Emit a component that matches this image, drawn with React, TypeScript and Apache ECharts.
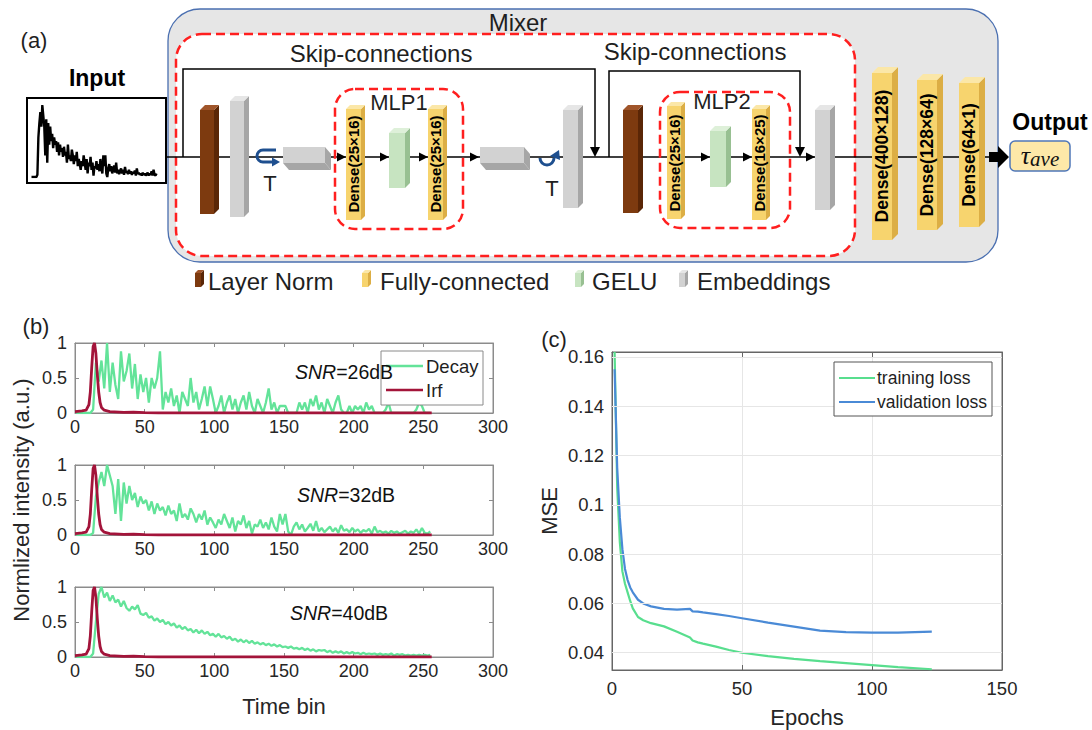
import React, { useEffect, useRef } from "react";
import * as echarts from "echarts";

const FONT = "'Liberation Sans', Arial, Helvetica, sans-serif";
const TXT = "#1f1f1f";

// ---------------- data ----------------
// decay histograms, sampled every other time bin (bins 1, 3, 5, ..., 255)
const BIN_START = 1;
const BIN_STEP = 2;
const decay26 = [
  0, 0, 0, 0, 0, 0, 0.05, 0.72, 0.45, 0.75, 0.35, 1.0, 0.3, 0.72, 0.4, 0.2, 0.88, 0.45, 0.6, 0.85,
  0.35, 0.7, 0.2, 0.55, 0.3, 0.5, 0.15, 0.5, 0.35, 0.5, 0.88, 0.05, 0.3, 0.15, 0.35, 0.1, 0.25, 0, 0.3, 0.2,
  0.1, 0.5, 0.15, 0.3, 0.05, 0.2, 0.38, 0.1, 0.38, 0.2, 0, 0.1, 0.25, 0, 0.15, 0.25, 0.05, 0.2, 0, 0.15,
  0.25, 0.05, 0.3, 0.1, 0, 0.2, 0.1, 0, 0.15, 0.35, 0.05, 0.15, 0, 0.1, 0.1, 0.1, 0, 0, 0, 0,
  0.15, 0.05, 0.15, 0, 0.2, 0.1, 0.25, 0.05, 0.15, 0, 0.2, 0.1, 0, 0.15, 0.25, 0.05, 0, 0, 0.1, 0,
  0.1, 0.05, 0.1, 0, 0.15, 0.05, 0.1, 0, 0, 0, 0, 0.05, 0.15, 0, 0, 0, 0, 0, 0, 0,
  0, 0, 0.05, 0.15, 0.1, 0, 0, 0,
];
const decay32 = [
  0, 0, 0, 0, 0, 0, 0.03, 0.55, 0.75, 0.9, 0.7, 1.0, 0.85, 0.7, 0.3, 0.8, 0.2, 0.75, 0.45, 0.7,
  0.5, 0.6, 0.4, 0.55, 0.45, 0.5, 0.35, 0.48, 0.3, 0.45, 0.35, 0.4, 0.28, 0.42, 0.3, 0.35, 0.2, 0.45, 0.25, 0.3,
  0.22, 0.38, 0.3, 0.18, 0.3, 0.22, 0.35, 0.15, 0.25, 0.18, 0.1, 0.22, 0.15, 0.3, 0.2, 0.1, 0.25, 0.05, 0.2, 0.15,
  0.28, 0.1, 0.2, 0.02, 0.15, 0.12, 0.22, 0.1, 0.18, 0.08, 0.25, 0.12, 0.05, 0.3, 0.15, 0.3, 0.05, 0, 0.12, 0.18,
  0.08, 0.15, 0.05, 0.1, 0.16, 0.06, 0.2, 0.05, 0.1, 0.04, 0.08, 0.12, 0.05, 0.1, 0.03, 0.14, 0.06, 0.08, 0.04, 0.1,
  0.05, 0.08, 0.03, 0.07, 0.05, 0.09, 0.02, 0.12, 0.04, 0.06, 0.03, 0.05, 0.02, 0.06, 0.03, 0.05, 0.02, 0.04, 0.06, 0.02,
  0.05, 0.03, 0.08, 0.02, 0.1, 0.03, 0.02, 0.05,
];
const decay40 = [
  0, 0, 0, 0, 0, 0, 0.05, 0.5, 0.9, 1.0, 0.85, 0.92, 0.8, 0.88, 0.78, 0.82, 0.72, 0.8, 0.7, 0.66,
  0.72, 0.68, 0.74, 0.62, 0.6, 0.63, 0.56, 0.58, 0.52, 0.55, 0.5, 0.53, 0.47, 0.5, 0.45, 0.48, 0.42, 0.45, 0.4, 0.43,
  0.38, 0.4, 0.35, 0.39, 0.34, 0.38, 0.33, 0.36, 0.31, 0.33, 0.29, 0.33, 0.28, 0.3, 0.26, 0.29, 0.24, 0.26, 0.22, 0.25,
  0.21, 0.24, 0.2, 0.23, 0.19, 0.21, 0.18, 0.2, 0.17, 0.19, 0.16, 0.18, 0.15, 0.17, 0.14, 0.15, 0.13, 0.15, 0.12, 0.13,
  0.11, 0.13, 0.1, 0.12, 0.09, 0.11, 0.08, 0.1, 0.09, 0.1, 0.07, 0.09, 0.06, 0.08, 0.06, 0.08, 0.05, 0.07, 0.05, 0.07,
  0.05, 0.06, 0.04, 0.06, 0.04, 0.05, 0.04, 0.05, 0.03, 0.05, 0.03, 0.04, 0.03, 0.05, 0.02, 0.04, 0.03, 0.04, 0.02, 0.03,
  0.02, 0.03, 0.02, 0.03, 0.02, 0.03, 0.02, 0.03,
];
const irfBins = [0, 5, 8, 10, 11, 12, 13, 14, 15, 16, 17, 18, 19, 21, 25, 35, 42, 50, 60, 256];
const irfValues = [0.02, 0.03, 0.04, 0.12, 0.3, 0.65, 0.95, 1.0, 0.85, 0.55, 0.3, 0.15, 0.08, 0.04, 0.02, 0.01, 0.012, 0.005, 0, 0];
const snrLabels = ["26dB", "32dB", "40dB"];

const epochs = [1, 2, 3, 4, 5, 6, 7, 8, 10, 12, 15, 20, 25, 30, 31, 33, 35, 40, 45, 50, 60, 70, 80, 90, 100, 110, 123];
const trainingLoss = [0.162, 0.107, 0.085, 0.073, 0.068, 0.0645, 0.061, 0.058, 0.0545, 0.0532, 0.052, 0.0507, 0.0485, 0.0462, 0.045, 0.0442, 0.0437, 0.0425, 0.0411, 0.04, 0.0386, 0.0375, 0.0366, 0.0358, 0.035, 0.0342, 0.0333];
const validationLoss = [0.155, 0.115, 0.095, 0.082, 0.074, 0.0695, 0.0665, 0.0645, 0.0615, 0.06, 0.0588, 0.0578, 0.0575, 0.0578, 0.0568, 0.0567, 0.0564, 0.0557, 0.0549, 0.054, 0.0522, 0.0506, 0.049, 0.0484, 0.0482, 0.0482, 0.0486];
const mseTicks = [0.04, 0.06, 0.08, 0.1, 0.12, 0.14, 0.16];

const legendB = ["Decay", "Irf"];
const legendC = ["training loss", "validation loss"];
const blockLegend = ["Layer Norm", "Fully-connected", "GELU", "Embeddings"];
const mlp1Dense = ["Dense(25×16)", "Dense(25×16)"];
const mlp2Dense = ["Dense(25×16)", "Dense(16×25)"];
const headDense = ["Dense(400×128)", "Dense(128×64)", "Dense(64×1)"];

// ---------------- colours ----------------
const GREEN = "#63e399";
const RED = "#a3143a";
const TRAIN = "#58de8e";
const VALID = "#4a8ad6";
const BROWN = { front: "#7d3a0f", top: "#a0552a", side: "#5a2606" };
const GRAY = { front: "#d2d2d2", top: "#e6e6e6", side: "#a6a6a6" };
const YELLOW = { front: "#f7d46e", top: "#fbe7a8", side: "#dcae45" };
const GELUC = { front: "#c7e4c1", top: "#def0d9", side: "#98c092" };

const toPairs = (vals: number[]) => vals.map((v, i) => [BIN_START + BIN_STEP * i, v]);

// ---------------- graphic helpers ----------------
const poly = (pts: number[][], fill: string, z = 5) => ({ type: "polygon", silent: true, z, shape: { points: pts }, style: { fill } });
function box3d(x: number, y: number, w: number, h: number, dx: number, dy: number, c: any, z = 5) {
  const els: any[] = [];
  els.push(poly([[x + w, y], [x + w + dx, y + dy], [x + w + dx, y + h + dy], [x + w, y + h]], c.side, z));
  if (dy < 0) els.push(poly([[x, y], [x + dx, y + dy], [x + w + dx, y + dy], [x + w, y]], c.top, z));
  else els.push(poly([[x, y + h], [x + dx, y + h + dy], [x + w + dx, y + h + dy], [x + w, y + h]], c.side, z));
  els.push({ type: "rect", silent: true, z, shape: { x, y, width: w, height: h }, style: { fill: c.front } });
  return els;
}
const txt = (text: string, x: number, y: number, size: number, o: any = {}) => ({
  type: "text",
  silent: true,
  x,
  y,
  z: o.z ?? 20,
  rotation: o.rotation ?? 0,
  style: {
    text,
    fill: o.fill ?? TXT,
    fontSize: size,
    fontFamily: o.fontFamily ?? FONT,
    fontWeight: o.bold ? "bold" : "normal",
    fontStyle: o.italic ? "italic" : "normal",
    align: o.align ?? "center",
    verticalAlign: "middle",
    rich: o.rich,
  },
});
const line = (x1: number, y1: number, x2: number, y2: number, stroke = "#000", lw = 1.5, z = 3) => ({
  type: "line", silent: true, z, shape: { x1, y1, x2, y2 }, style: { stroke, lineWidth: lw },
});
const arrowR = (tx: number, ty: number) => poly([[tx, ty], [tx - 9, ty - 4.5], [tx - 9, ty + 4.5]], "#000", 4);
const arrowD = (tx: number, ty: number) => poly([[tx, ty], [tx - 5, ty - 10], [tx + 5, ty - 10]], "#000", 4);
const dashBox = (x: number, y: number, w: number, h: number, r: number, fill: string, z = 2) => ({
  type: "rect", silent: true, z, shape: { x, y, width: w, height: h, r },
  style: { fill, stroke: "#ff1f1f", lineWidth: 2.5, lineDash: [9, 5] },
});

function diagram() {
  const g: any[] = [];
  // Mixer container
  g.push({ type: "rect", silent: true, z: 1, shape: { x: 168, y: 9, width: 830, height: 253, r: 32 }, style: { fill: "#e6e6e6", stroke: "#4a6fb0", lineWidth: 1.3 } });
  g.push(dashBox(176, 34, 679, 222, 26, "#ffffff"));
  g.push(dashBox(335, 89, 128, 140, 20, "none", 6));
  g.push(dashBox(660, 92, 130, 136, 20, "none", 6));
  // input box
  g.push({ type: "rect", silent: true, z: 1, shape: { x: 27, y: 98, width: 139, height: 85 }, style: { fill: "#fff", stroke: "#000", lineWidth: 2 } });
  // main data path
  g.push(line(166, 157, 990, 157));
  g.push({ type: "polyline", silent: true, z: 3, shape: { points: [[183, 157], [183, 69], [595, 69], [595, 148]] }, style: { stroke: "#000", lineWidth: 1.5, fill: "none" } });
  g.push(arrowD(595, 157));
  g.push({ type: "polyline", silent: true, z: 3, shape: { points: [[609, 157], [609, 71], [800, 71], [800, 148]] }, style: { stroke: "#000", lineWidth: 1.5, fill: "none" } });
  g.push(arrowD(800, 157));
  [346, 389, 428, 479, 710, 752, 815].forEach((x) => g.push(arrowR(x, 157)));
  // token mixing block
  g.push(...box3d(200, 110, 14, 104, 5, -5, BROWN));
  g.push(...box3d(230, 101, 14, 116, 5, -5, GRAY));
  g.push(...box3d(283, 147, 42, 16, 6, 7, GRAY));
  g.push(...box3d(346, 109, 15, 111, 4, -4, YELLOW));
  g.push(...box3d(389, 133, 16, 55, 5, -5, GELUC));
  g.push(...box3d(428, 109, 15, 111, 4, -4, YELLOW));
  g.push(...box3d(480, 147, 44, 16, 6, 7, GRAY));
  g.push(...box3d(563, 110, 15, 98, 5, -5, GRAY));
  // channel mixing block
  g.push(...box3d(623, 110, 15, 103, 5, -5, BROWN));
  g.push(...box3d(667, 106, 14, 113, 4, -4, YELLOW));
  g.push(...box3d(710, 131, 16, 56, 5, -5, GELUC));
  g.push(...box3d(752, 109, 14, 111, 4, -4, YELLOW));
  g.push(...box3d(815, 110, 15, 100, 5, -5, GRAY));
  // head
  g.push(...box3d(872, 73, 20, 167, 6, -6, YELLOW));
  g.push(...box3d(917, 80, 20, 150, 6, -6, YELLOW));
  g.push(...box3d(959, 83, 20, 144, 6, -6, YELLOW));
  // dense labels
  mlp1Dense.forEach((t, i) => g.push(txt(t, [353.5, 435.5][i], 164, 15, { bold: true, rotation: Math.PI / 2, fill: "#000" })));
  mlp2Dense.forEach((t, i) => g.push(txt(t, [674, 759][i], 163, 15, { bold: true, rotation: Math.PI / 2, fill: "#000" })));
  headDense.forEach((t, i) => g.push(txt(t, [882, 927, 969][i], [156, 155, 155][i], 17.5, { bold: true, rotation: Math.PI / 2, fill: "#000" })));
  // transpose icons
  const blue = "#1e4f8f";
  g.push({ type: "arc", silent: true, z: 8, shape: { cx: 263, cy: 156, r: 6, startAngle: -Math.PI / 2, endAngle: Math.PI / 2, clockwise: false }, style: { stroke: blue, lineWidth: 3, fill: "none" } });
  g.push(line(263, 150, 276, 150, blue, 3, 8));
  g.push(line(263, 162, 272, 162, blue, 3, 8));
  g.push(poly([[280, 162], [272, 157.5], [272, 166.5]], blue, 8));
  g.push({ type: "arc", silent: true, z: 8, shape: { cx: 547, cy: 158, r: 7, startAngle: 0, endAngle: Math.PI, clockwise: true }, style: { stroke: blue, lineWidth: 3, fill: "none" } });
  g.push(poly([[559, 150], [550, 156], [560, 160]], blue, 8));
  g.push(txt("T", 270, 183, 22));
  g.push(txt("T", 552, 188, 22));
  // labels
  g.push(txt("(a)", 34, 40, 22));
  g.push(txt("Mixer", 518, 22, 24));
  g.push(txt("Skip-connections", 381, 53, 24));
  g.push(txt("Skip-connections", 695, 51, 24));
  g.push(txt("Input", 97, 78, 23, { bold: true, fill: "#000" }));
  g.push(txt("MLP1", 399, 102, 22));
  g.push(txt("MLP2", 722, 101, 22));
  g.push(txt("Output", 1050, 122, 23, { bold: true, fill: "#000" }));
  // output arrow and tau box
  g.push(poly([[989, 152], [998, 152], [998, 146], [1009, 157], [998, 168], [998, 162], [989, 162]], "#000", 9));
  g.push({ type: "rect", silent: true, z: 9, shape: { x: 1010, y: 141, width: 60, height: 30, r: 5 }, style: { fill: "#fde8a8", stroke: "#4f77b8", lineWidth: 1.5 } });
  g.push(txt("{t|τ}{s|ave}", 1040, 155, 24, {
    fontFamily: "'Liberation Serif', serif",
    italic: true,
    fill: "#111",
    rich: {
      t: { fontSize: 26, fontStyle: "italic", fontFamily: "'Liberation Serif', serif", fill: "#111" },
      s: { fontSize: 21, fontStyle: "italic", fontFamily: "'Liberation Serif', serif", fill: "#111", padding: [8, 0, 0, 0] },
    },
  }));
  // block legend
  const legColors = [BROWN, YELLOW, GELUC, GRAY];
  const iconX = [195, 362, 575, 679];
  const textX = [208, 380, 592, 697];
  blockLegend.forEach((t, i) => {
    g.push(...box3d(iconX[i], 273, 6, 14, 3, -3, legColors[i]));
    g.push(txt(t, textX[i], 281, 24, { align: "left" }));
  });
  return g;
}

function panelDecorations() {
  const g: any[] = [];
  g.push(txt("(b)", 36, 326, 22));
  g.push(txt("(c)", 554, 339, 22));
  // legend (b)
  g.push({ type: "rect", silent: true, z: 30, shape: { x: 381, y: 351, width: 102, height: 54 }, style: { fill: "#fff", stroke: "#8a8a8a", lineWidth: 1 } });
  g.push(line(386, 366, 423, 366, GREEN, 2.6, 31));
  g.push(line(386, 390, 423, 390, RED, 2.6, 31));
  g.push(txt(legendB[0], 426, 366, 18.5, { align: "left", z: 31 }));
  g.push(txt(legendB[1], 426, 390, 18.5, { align: "left", z: 31 }));
  // SNR labels
  const snrX = [295, 297, 290];
  const snrY = [372, 495, 613];
  snrLabels.forEach((s, i) =>
    g.push(txt("{i|SNR}=" + s, snrX[i], snrY[i], 19.5, { align: "left", z: 32, fill: "#111", rich: { i: { fontStyle: "italic", fontSize: 19.5, fontFamily: FONT, fill: "#111" } } }))
  );
  // legend (c)
  g.push({ type: "rect", silent: true, z: 30, shape: { x: 834, y: 362, width: 158, height: 54 }, style: { fill: "#fff", stroke: "#555", lineWidth: 1 } });
  g.push(line(839, 378, 875, 378, TRAIN, 2.2, 31));
  g.push(line(839, 402, 875, 402, VALID, 2.2, 31));
  g.push(txt(legendC[0], 877, 378, 17.5, { align: "left", z: 31 }));
  g.push(txt(legendC[1], 877, 402, 17.5, { align: "left", z: 31 }));
  return g;
}

function buildOption() {
  const grids: any[] = [];
  const xAxes: any[] = [];
  const yAxes: any[] = [];
  const series: any[] = [];

  // grid 0: input trace inside the diagram
  grids.push({ left: 31, top: 105, width: 126, height: 72 });
  xAxes.push({ gridIndex: 0, type: "value", min: 0, max: 256, show: false });
  yAxes.push({ gridIndex: 0, type: "value", min: 0, max: 1, show: false });
  series.push({ type: "line", xAxisIndex: 0, yAxisIndex: 0, data: toPairs(decay32), showSymbol: false, silent: true, lineStyle: { color: "#000", width: 2.4 } });

  // panel (b)
  const axB = "#8c8c8c";
  const tickLabel = (size: number) => ({ fontSize: size, color: "#262626", fontFamily: FONT });
  const decays = [decay26, decay32, decay40];
  const tops = [343, 465, 587];
  tops.forEach((top, k) => {
    const gi = grids.length;
    grids.push({ left: 75, top, width: 418, height: 70, show: true, borderColor: axB, borderWidth: 1 });
    const xi = xAxes.length;
    xAxes.push({
      gridIndex: gi, type: "value", min: 0, max: 300, interval: 50, position: "bottom",
      axisLine: { show: true, onZero: false, lineStyle: { color: axB } },
      axisTick: { show: true, inside: true, length: 4, lineStyle: { color: axB } },
      axisLabel: { ...tickLabel(18), margin: 5 },
      splitLine: { show: false },
      name: k === 2 ? "Time bin" : "",
      nameLocation: "middle", nameGap: 38,
      nameTextStyle: { fontSize: 22, color: "#262626", fontFamily: FONT },
    });
    xAxes.push({
      gridIndex: gi, type: "value", min: 0, max: 300, interval: 50, position: "top",
      axisLine: { show: true, onZero: false, lineStyle: { color: axB } },
      axisTick: { show: true, inside: true, length: 4, lineStyle: { color: axB } },
      axisLabel: { show: false }, splitLine: { show: false },
    });
    const yi = yAxes.length;
    yAxes.push({
      gridIndex: gi, type: "value", min: 0, max: 1, interval: 0.5, position: "left",
      axisLine: { show: true, onZero: false, lineStyle: { color: axB } },
      axisTick: { show: true, inside: true, length: 4, lineStyle: { color: axB } },
      axisLabel: { ...tickLabel(18), margin: 8 },
      splitLine: { show: false },
      name: k === 1 ? "Normlized intensity (a.u.)" : "",
      nameLocation: "middle", nameGap: 43,
      nameTextStyle: { fontSize: 22, color: "#262626", fontFamily: FONT },
    });
    yAxes.push({
      gridIndex: gi, type: "value", min: 0, max: 1, interval: 0.5, position: "right",
      axisLine: { show: true, onZero: false, lineStyle: { color: axB } },
      axisTick: { show: true, inside: true, length: 4, lineStyle: { color: axB } },
      axisLabel: { show: false }, splitLine: { show: false },
    });
    series.push({ name: legendB[0], type: "line", xAxisIndex: xi, yAxisIndex: yi, data: toPairs(decays[k]), showSymbol: false, silent: true, z: 2, lineStyle: { color: GREEN, width: 2.3 } });
    series.push({ name: legendB[1], type: "line", xAxisIndex: xi, yAxisIndex: yi, data: irfBins.map((b, i) => [b, irfValues[i]]), showSymbol: false, silent: true, z: 3, lineStyle: { color: RED, width: 2.8 } });
  });

  // panel (c)
  const axC = "#666";
  const gc = grids.length;
  grids.push({ left: 612, top: 352, width: 390, height: 318, show: true, borderColor: axC, borderWidth: 1 });
  const xc = xAxes.length;
  xAxes.push({
    gridIndex: gc, type: "value", min: 0, max: 150, interval: 50, position: "bottom",
    axisLine: { show: true, onZero: false, lineStyle: { color: axC } },
    axisTick: { show: true, inside: true, length: 5, lineStyle: { color: axC } },
    axisLabel: { ...tickLabel(18.5), margin: 9 },
    splitLine: { show: true, lineStyle: { color: "#e6e6e6", width: 1 } },
    name: "Epochs", nameLocation: "middle", nameGap: 36,
    nameTextStyle: { fontSize: 22, color: "#262626", fontFamily: FONT },
  });
  xAxes.push({
    gridIndex: gc, type: "value", min: 0, max: 150, interval: 50, position: "top",
    axisLine: { show: true, onZero: false, lineStyle: { color: axC } },
    axisTick: { show: true, inside: true, length: 5, lineStyle: { color: axC } },
    axisLabel: { show: false }, splitLine: { show: false },
  });
  const yc = yAxes.length;
  yAxes.push({
    gridIndex: gc, type: "value", min: 0.033, max: 0.162, position: "left",
    axisLine: { show: true, onZero: false, lineStyle: { color: axC } },
    axisTick: { show: true, inside: true, length: 5, customValues: mseTicks, lineStyle: { color: axC } },
    axisLabel: { ...tickLabel(18.5), margin: 8, customValues: mseTicks, formatter: (v: number) => String(+v.toFixed(2)) },
    splitLine: { show: false },
    name: "MSE", nameLocation: "middle", nameGap: 52,
    nameTextStyle: { fontSize: 22, color: "#262626", fontFamily: FONT },
  });
  yAxes.push({
    gridIndex: gc, type: "value", min: 0.033, max: 0.162, position: "right",
    axisLine: { show: true, onZero: false, lineStyle: { color: axC } },
    axisTick: { show: true, inside: true, length: 5, customValues: mseTicks, lineStyle: { color: axC } },
    axisLabel: { show: false }, splitLine: { show: false },
  });
  // horizontal grid lines at the MSE tick values
  series.push({
    type: "line", xAxisIndex: xc, yAxisIndex: yc, data: [[0, 0.1]], showSymbol: false, silent: true, z: 1,
    lineStyle: { opacity: 0 },
    markLine: { silent: true, symbol: "none", label: { show: false }, lineStyle: { color: "#e6e6e6", width: 1, type: "solid" }, data: mseTicks.map((v) => ({ yAxis: v })) },
  });
  series.push({ name: legendC[0], type: "line", xAxisIndex: xc, yAxisIndex: yc, data: epochs.map((e, i) => [e, trainingLoss[i]]), showSymbol: false, silent: true, z: 3, lineStyle: { color: TRAIN, width: 2.2 } });
  series.push({ name: legendC[1], type: "line", xAxisIndex: xc, yAxisIndex: yc, data: epochs.map((e, i) => [e, validationLoss[i]]), showSymbol: false, silent: true, z: 3, lineStyle: { color: VALID, width: 2.2 } });

  return {
    animation: false,
    backgroundColor: "#ffffff",
    textStyle: { fontFamily: FONT },
    grid: grids,
    xAxis: xAxes,
    yAxis: yAxes,
    series,
    graphic: { elements: [...diagram(), ...panelDecorations()] },
  };
}

export default function App() {
  const ref = useRef<HTMLDivElement>(null);
  useEffect(() => {
    if (!ref.current) return;
    const chart = echarts.init(ref.current, null, { renderer: "svg" });
    chart.setOption(buildOption() as any);
    return () => chart.dispose();
  }, []);
  return <div ref={ref} style={{ position: "absolute", left: 0, top: 0, width: 1092, height: 730, background: "#fff" }} />;
}
